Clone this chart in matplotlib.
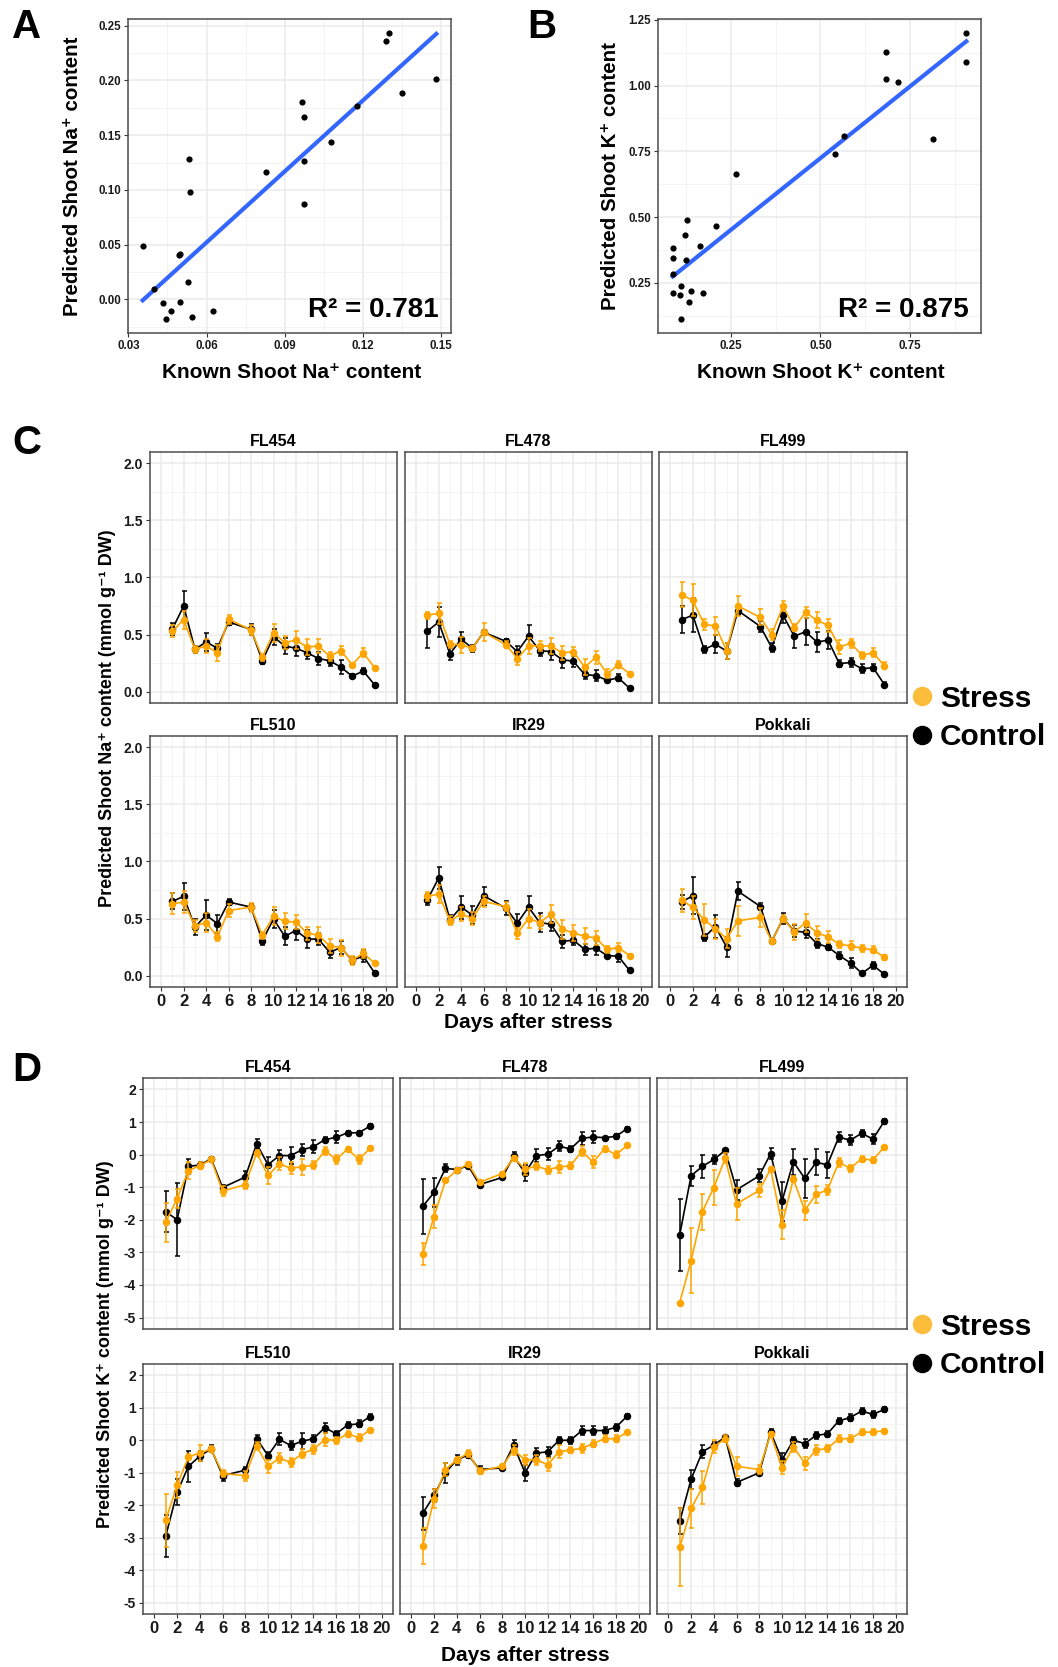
import matplotlib
matplotlib.use("Agg")
import matplotlib.pyplot as plt
import numpy as np
from matplotlib.lines import Line2D
from matplotlib.ticker import MultipleLocator, FormatStrFormatter

plt.rcParams['font.family'] = ['Liberation Sans', 'DejaVu Sans']
plt.rcParams['font.weight'] = 'bold'
plt.rcParams['axes.unicode_minus'] = False

# ---- panel A / B : known vs predicted shoot content ----
na_known = [0.0355, 0.0398, 0.0432, 0.0445, 0.0464, 0.0493, 0.0498, 0.0498, 0.053, 0.0532, 0.0535, 0.0546,
            0.0625, 0.0827, 0.0967, 0.0975, 0.0973, 0.0973, 0.1078, 0.1179, 0.1288, 0.1302, 0.1352, 0.1482]
na_pred = [0.0492, 0.0097, -0.0036, -0.0176, -0.0109, 0.0407, 0.0419, -0.0024, 0.0158, 0.1279, 0.0984, -0.0164,
           -0.0103, 0.116, 0.1807, 0.1665, 0.1264, 0.0872, 0.1434, 0.1768, 0.2357, 0.243, 0.1886, 0.2017]
k_known = [0.089, 0.087, 0.087, 0.089, 0.109, 0.108, 0.111, 0.121, 0.126, 0.125, 0.134, 0.138,
           0.163, 0.171, 0.208, 0.265, 0.541, 0.567, 0.684, 0.683, 0.717, 0.814, 0.908, 0.906]
k_pred = [0.382, 0.345, 0.283, 0.209, 0.237, 0.202, 0.113, 0.432, 0.488, 0.337, 0.177, 0.220,
          0.389, 0.212, 0.465, 0.665, 0.741, 0.809, 1.128, 1.025, 1.015, 0.796, 1.199, 1.090]
r2_na = "0.781"
r2_k = "0.875"

# ---- panel C / D : time courses ----
days = [1, 2, 3, 4, 5, 6, 8, 9, 10, 11, 12, 13, 14, 15, 16, 17, 18, 19]
cultivars = ["FL454", "FL478", "FL499", "FL510", "IR29", "Pokkali"]

na_control = {
    "FL454": [0.55, 0.75, 0.37, 0.435, 0.38, 0.61, 0.545, 0.27, 0.48, 0.40, 0.38, 0.34, 0.29, 0.27, 0.215, 0.135, 0.18, 0.06],
    "FL478": [0.53, 0.61, 0.33, 0.46, 0.38, 0.52, 0.44, 0.35, 0.485, 0.36, 0.35, 0.28, 0.265, 0.15, 0.14, 0.10, 0.12, 0.03],
    "FL499": [0.63, 0.67, 0.37, 0.415, 0.355, 0.71, 0.57, 0.385, 0.67, 0.485, 0.525, 0.435, 0.45, 0.245, 0.255, 0.20, 0.21, 0.06],
    "FL510": [0.65, 0.695, 0.425, 0.53, 0.455, 0.645, 0.60, 0.305, 0.495, 0.345, 0.395, 0.32, 0.32, 0.205, 0.245, 0.135, 0.17, 0.025],
    "IR29": [0.665, 0.855, 0.49, 0.60, 0.53, 0.70, 0.59, 0.46, 0.60, 0.465, 0.45, 0.30, 0.31, 0.23, 0.24, 0.175, 0.17, 0.045],
    "Pokkali": [0.645, 0.70, 0.335, 0.43, 0.25, 0.74, 0.605, 0.30, 0.50, 0.39, 0.38, 0.28, 0.25, 0.175, 0.11, 0.02, 0.09, 0.01],
}
na_stress = {
    "FL454": [0.53, 0.63, 0.37, 0.40, 0.34, 0.635, 0.54, 0.30, 0.515, 0.43, 0.45, 0.39, 0.40, 0.31, 0.36, 0.235, 0.34, 0.21],
    "FL478": [0.67, 0.685, 0.415, 0.41, 0.38, 0.52, 0.41, 0.29, 0.40, 0.40, 0.40, 0.34, 0.35, 0.215, 0.30, 0.155, 0.235, 0.155],
    "FL499": [0.85, 0.80, 0.59, 0.575, 0.36, 0.75, 0.65, 0.50, 0.75, 0.56, 0.695, 0.625, 0.58, 0.39, 0.425, 0.32, 0.34, 0.225],
    "FL510": [0.63, 0.645, 0.435, 0.465, 0.34, 0.57, 0.60, 0.355, 0.52, 0.475, 0.47, 0.37, 0.355, 0.26, 0.245, 0.135, 0.195, 0.11],
    "IR29": [0.695, 0.715, 0.48, 0.54, 0.50, 0.65, 0.605, 0.37, 0.50, 0.465, 0.54, 0.405, 0.375, 0.345, 0.33, 0.23, 0.245, 0.175],
    "Pokkali": [0.66, 0.60, 0.49, 0.41, 0.325, 0.48, 0.51, 0.30, 0.50, 0.385, 0.46, 0.375, 0.34, 0.275, 0.26, 0.24, 0.225, 0.16],
}
na_control_se = {
    "FL454": [0.05, 0.13, 0.03, 0.08, 0.04, 0.03, 0.05, 0.03, 0.07, 0.07, 0.07, 0.05, 0.06, 0.05, 0.06, 0.02, 0.03, 0.01],
    "FL478": [0.15, 0.13, 0.05, 0.06, 0.03, 0.02, 0.02, 0.05, 0.10, 0.05, 0.07, 0.07, 0.05, 0.04, 0.05, 0.01, 0.03, 0.01],
    "FL499": [0.12, 0.15, 0.03, 0.08, 0.07, 0.04, 0.05, 0.04, 0.07, 0.10, 0.12, 0.09, 0.08, 0.03, 0.04, 0.04, 0.03, 0.02],
    "FL510": [0.07, 0.12, 0.07, 0.13, 0.08, 0.03, 0.03, 0.04, 0.08, 0.08, 0.08, 0.08, 0.05, 0.05, 0.06, 0.03, 0.05, 0.01],
    "IR29": [0.05, 0.10, 0.04, 0.10, 0.08, 0.08, 0.06, 0.08, 0.10, 0.08, 0.06, 0.06, 0.04, 0.05, 0.06, 0.02, 0.05, 0.01],
    "Pokkali": [0.06, 0.16, 0.03, 0.10, 0.09, 0.08, 0.03, 0.02, 0.05, 0.05, 0.05, 0.04, 0.03, 0.03, 0.04, 0.01, 0.03, 0.01],
}
na_stress_se = {
    "FL454": [0.05, 0.08, 0.03, 0.06, 0.07, 0.04, 0.04, 0.03, 0.08, 0.06, 0.08, 0.07, 0.06, 0.04, 0.04, 0.01, 0.04, 0.01],
    "FL478": [0.03, 0.09, 0.03, 0.07, 0.02, 0.08, 0.03, 0.06, 0.07, 0.04, 0.07, 0.06, 0.04, 0.07, 0.06, 0.04, 0.03, 0.02],
    "FL499": [0.11, 0.14, 0.05, 0.08, 0.07, 0.09, 0.07, 0.05, 0.04, 0.03, 0.05, 0.07, 0.06, 0.06, 0.04, 0.03, 0.04, 0.03],
    "FL510": [0.09, 0.10, 0.05, 0.08, 0.04, 0.06, 0.04, 0.03, 0.08, 0.07, 0.06, 0.06, 0.07, 0.06, 0.07, 0.04, 0.04, 0.01],
    "IR29": [0.04, 0.08, 0.04, 0.06, 0.06, 0.05, 0.04, 0.05, 0.08, 0.06, 0.08, 0.08, 0.07, 0.07, 0.06, 0.03, 0.04, 0.01],
    "Pokkali": [0.10, 0.10, 0.14, 0.09, 0.08, 0.13, 0.08, 0.02, 0.03, 0.07, 0.08, 0.06, 0.05, 0.03, 0.04, 0.03, 0.03, 0.02],
}

k_control = {
    "FL454": [-1.75, -2.0, -0.36, -0.32, -0.13, -1.01, -0.69, 0.33, -0.31, -0.03, -0.03, 0.15, 0.24, 0.46, 0.53, 0.67, 0.67, 0.88],
    "FL478": [-1.59, -1.16, -0.42, -0.46, -0.34, -0.92, -0.70, -0.05, -0.56, -0.03, 0.01, 0.26, 0.17, 0.50, 0.54, 0.52, 0.56, 0.80],
    "FL499": [-2.46, -0.65, -0.36, -0.15, 0.13, -1.08, -0.65, 0.03, -1.43, -0.22, -0.73, -0.24, -0.31, 0.54, 0.44, 0.65, 0.48, 1.02],
    "FL510": [-2.95, -1.60, -0.80, -0.49, -0.26, -1.09, -0.92, 0.05, -0.47, 0.03, -0.16, -0.03, 0.05, 0.39, 0.20, 0.47, 0.51, 0.73],
    "IR29": [-2.25, -1.7, -1.0, -0.6, -0.45, -0.9, -0.85, -0.15, -1.0, -0.4, -0.35, 0.0, 0.0, 0.3, 0.3, 0.3, 0.4, 0.75],
    "Pokkali": [-2.5, -1.2, -0.35, -0.15, 0.1, -1.3, -1.0, 0.25, -0.6, 0.0, -0.1, 0.15, 0.2, 0.6, 0.7, 0.9, 0.8, 0.95],
}
k_stress = {
    "FL454": [-2.08, -1.35, -0.49, -0.34, -0.15, -1.12, -0.92, 0.05, -0.64, -0.28, -0.42, -0.37, -0.33, 0.12, -0.15, 0.17, -0.15, 0.20],
    "FL478": [-3.05, -1.90, -0.79, -0.48, -0.29, -0.85, -0.58, -0.10, -0.44, -0.36, -0.46, -0.38, -0.34, 0.10, -0.23, 0.18, 0.0, 0.28],
    "FL499": [-4.54, -3.25, -1.75, -1.01, -0.11, -1.51, -1.10, -0.44, -2.15, -0.75, -1.71, -1.22, -1.08, -0.24, -0.42, -0.13, -0.17, 0.24],
    "FL510": [-2.46, -1.39, -0.51, -0.39, -0.27, -1.02, -1.09, -0.18, -0.80, -0.55, -0.68, -0.41, -0.28, 0.02, 0.0, 0.20, 0.08, 0.33],
    "IR29": [-3.25, -1.8, -0.9, -0.6, -0.4, -0.95, -0.8, -0.3, -0.6, -0.6, -0.75, -0.35, -0.3, -0.25, -0.1, 0.05, 0.05, 0.25],
    "Pokkali": [-3.3, -2.1, -1.45, -0.2, 0.05, -0.8, -0.9, 0.2, -0.85, -0.2, -0.7, -0.3, -0.25, 0.05, 0.05, 0.25, 0.25, 0.3],
}
k_control_se = {
    "FL454": [0.62, 1.12, 0.22, 0.10, 0.05, 0.08, 0.20, 0.15, 0.25, 0.18, 0.25, 0.18, 0.20, 0.08, 0.18, 0.05, 0.05, 0.05],
    "FL478": [0.85, 0.45, 0.12, 0.06, 0.05, 0.06, 0.03, 0.12, 0.25, 0.20, 0.18, 0.15, 0.10, 0.20, 0.18, 0.03, 0.08, 0.06],
    "FL499": [1.10, 0.30, 0.35, 0.15, 0.05, 0.30, 0.20, 0.18, 0.60, 0.40, 0.60, 0.40, 0.40, 0.15, 0.15, 0.10, 0.15, 0.08],
    "FL510": [0.65, 0.40, 0.48, 0.15, 0.10, 0.15, 0.10, 0.10, 0.10, 0.18, 0.15, 0.25, 0.10, 0.15, 0.10, 0.10, 0.10, 0.08],
    "IR29": [0.5, 0.2, 0.3, 0.15, 0.1, 0.1, 0.05, 0.15, 0.25, 0.15, 0.15, 0.1, 0.1, 0.15, 0.15, 0.1, 0.1, 0.05],
    "Pokkali": [0.4, 0.3, 0.2, 0.1, 0.05, 0.1, 0.05, 0.1, 0.2, 0.1, 0.15, 0.1, 0.1, 0.1, 0.1, 0.1, 0.1, 0.08],
}
k_stress_se = {
    "FL454": [0.60, 0.30, 0.25, 0.10, 0.05, 0.15, 0.12, 0.10, 0.25, 0.20, 0.18, 0.25, 0.12, 0.12, 0.15, 0.05, 0.15, 0.05],
    "FL478": [0.35, 0.35, 0.05, 0.05, 0.05, 0.05, 0.05, 0.06, 0.18, 0.10, 0.12, 0.18, 0.10, 0.15, 0.18, 0.08, 0.10, 0.03],
    "FL499": [0.02, 1.00, 0.55, 0.55, 0.15, 0.50, 0.20, 0.05, 0.45, 0.10, 0.30, 0.25, 0.15, 0.15, 0.10, 0.10, 0.10, 0.03],
    "FL510": [0.82, 0.40, 0.10, 0.25, 0.08, 0.12, 0.15, 0.12, 0.20, 0.15, 0.15, 0.15, 0.15, 0.20, 0.10, 0.10, 0.10, 0.03],
    "IR29": [0.55, 0.3, 0.2, 0.1, 0.1, 0.1, 0.05, 0.15, 0.15, 0.15, 0.2, 0.2, 0.1, 0.15, 0.1, 0.1, 0.1, 0.05],
    "Pokkali": [1.2, 0.6, 0.5, 0.2, 0.1, 0.3, 0.15, 0.05, 0.2, 0.15, 0.2, 0.15, 0.1, 0.1, 0.1, 0.1, 0.1, 0.05],
}

STRESS = "#FFA500"
STRESS_LEGEND = "#FBBD3A"
CONTROL = "black"
GRID = "#EBEBEB"

W, H = 1058, 1667
fig = plt.figure(figsize=(W / 100, H / 100), dpi=100)


def box(l, t, r, b):
    # pixel box (left, top, right, bottom) -> axes
    return fig.add_axes([l / W, 1 - b / H, (r - l) / W, (b - t) / H])


def fx(x):
    return x / W


def fy(y):
    return 1 - y / H


def style(ax, xmaj, xmin, ymaj, ymin, labelsize, xfmt=None, yfmt=None):
    ax.xaxis.set_major_locator(MultipleLocator(xmaj))
    ax.xaxis.set_minor_locator(MultipleLocator(xmin))
    ax.yaxis.set_major_locator(MultipleLocator(ymaj))
    ax.yaxis.set_minor_locator(MultipleLocator(ymin))
    if xfmt:
        ax.xaxis.set_major_formatter(FormatStrFormatter(xfmt))
    if yfmt:
        ax.yaxis.set_major_formatter(FormatStrFormatter(yfmt))
    ax.grid(which="major", color=GRID, lw=1.1)
    ax.grid(which="minor", color="#F2F2F2", lw=0.6)
    ax.set_axisbelow(True)
    for s in ax.spines.values():
        s.set_color("#4D4D4D")
        s.set_linewidth(1.1)
    ax.tick_params(which="major", length=3, width=0.8, color="#333333",
                   labelsize=labelsize, labelcolor="#1A1A1A", pad=2)
    ax.tick_params(which="minor", length=0)


def expand(vals, frac=0.05):
    lo, hi = min(vals), max(vals)
    pad = (hi - lo) * frac
    return lo - pad, hi + pad


def scatter_panel(ax, xs, ys, r2, xmaj, ymaj, xfmt, yfmt):
    xs = np.array(xs)
    ys = np.array(ys)
    ax.scatter(xs, ys, s=20, color="black", zorder=3, linewidths=0)
    slope, inter = np.polyfit(xs, ys, 1)
    xl = np.array([xs.min(), xs.max()])
    ax.plot(xl, slope * xl + inter, color="#3366FF", lw=3, zorder=2)
    ax.set_xlim(*expand(xs))
    ax.set_ylim(*expand(ys))
    style(ax, xmaj, xmaj / 2, ymaj, ymaj / 2, 8.3, xfmt, yfmt)
    ax.text(0.962, 0.05, "R² = " + r2, transform=ax.transAxes, ha="right",
            va="baseline", fontsize=20, fontweight="bold")


ax_a = box(128, 19, 451, 333)
scatter_panel(ax_a, na_known, na_pred, r2_na, 0.03, 0.05, "%.2f", "%.2f")
ax_b = box(658, 19, 981, 333)
scatter_panel(ax_b, k_known, k_pred, r2_k, 0.25, 0.25, "%.2f", "%.2f")

fig.text(fx(73), fy(176), "Predicted Shoot Na⁺ content", rotation=90, ha="center", va="center", fontsize=14.8)
fig.text(fx(292), fy(372), "Known Shoot Na⁺ content", ha="center", va="center", fontsize=15)
fig.text(fx(610), fy(176), "Predicted Shoot K⁺ content", rotation=90, ha="center", va="center", fontsize=14.8)
fig.text(fx(821), fy(372), "Known Shoot K⁺ content", ha="center", va="center", fontsize=15)


def time_panels(cols, rows, ctrl, ctrl_se, strs, strs_se, ylim, ymaj, ymin, yfmt):
    for i, name in enumerate(cultivars):
        r, c = divmod(i, 3)
        ax = box(cols[c][0], rows[r][0], cols[c][1], rows[r][1])
        ax.errorbar(days, ctrl[name], yerr=ctrl_se[name], color=CONTROL, lw=1.2,
                    marker="o", ms=4.4, elinewidth=1.1, capsize=1.8, capthick=1.1, zorder=3)
        ax.errorbar(days, strs[name], yerr=strs_se[name], color=STRESS, lw=1.2,
                    marker="o", ms=4.4, elinewidth=1.1, capsize=1.8, capthick=1.1, zorder=4)
        ax.set_xlim(-1, 21)
        ax.set_ylim(*ylim)
        style(ax, 2, 1, ymaj, ymin, 10, "%d", yfmt)
        ax.set_title(name, fontsize=11.5, fontweight="bold", pad=4)
        if c != 0:
            ax.tick_params(axis="y", which="both", left=False, labelleft=False)
        if r != 1:
            ax.tick_params(axis="x", which="both", bottom=False, labelbottom=False)
        else:
            ax.tick_params(axis="x", labelsize=12)


time_panels([(150, 397), (405, 652), (659, 907)], [(452, 703), (736, 987)],
            na_control, na_control_se, na_stress, na_stress_se, (-0.1, 2.1), 0.5, 0.25, "%.1f")
time_panels([(143, 393), (400, 650), (657, 907)], [(1078, 1329), (1364, 1614)],
            k_control, k_control_se, k_stress, k_stress_se, (-5.35, 2.35), 1, 0.5, "%d")

fig.text(fx(108), fy(718), "Predicted Shoot Na⁺ content (mmol g⁻¹ DW)", rotation=90,
         ha="center", va="center", fontsize=13)
fig.text(fx(528), fy(1023), "Days after stress", ha="center", va="center", fontsize=15)
fig.text(fx(106), fy(1344), "Predicted Shoot K⁺ content (mmol g⁻¹ DW)", rotation=90,
         ha="center", va="center", fontsize=13)
fig.text(fx(525), fy(1655), "Days after stress", ha="center", va="center", fontsize=15)

# legends
handles = [Line2D([], [], ls="", marker="o", ms=13, color=STRESS_LEGEND, label="Stress"),
           Line2D([], [], ls="", marker="o", ms=13, color=CONTROL, label="Control")]
for ymid in (718, 1346):
    fig.legend(handles=handles, loc="center left", bbox_to_anchor=(fx(913), fy(ymid)),
               frameon=False, handlelength=0.6, handletextpad=0.3,
               labelspacing=0.35, borderpad=0, borderaxespad=0,
               prop={"weight": "bold", "size": 21.5})

# panel letters
for letter, x, y in [("A", 12, 8), ("B", 527, 8), ("C", 12, 424), ("D", 12, 1051)]:
    fig.text(fx(x), fy(y), letter, ha="left", va="top", fontsize=29, fontweight="bold")

fig.savefig("out.png", dpi=100, facecolor="white")
